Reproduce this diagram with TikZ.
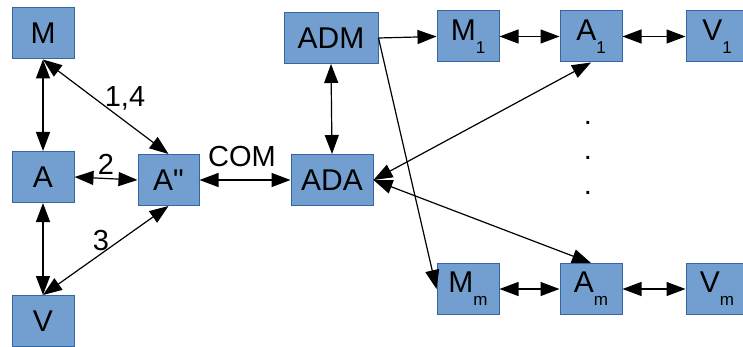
\documentclass[tikz,border=0pt]{standalone}
\usepackage{fontspec}
\setmainfont{Liberation Sans}
\newfontfamily\rawfont[Ligatures=TeXOff]{Liberation Sans}
\usetikzlibrary{arrows.meta}
\definecolor{boxfill}{HTML}{729FCF}
\definecolor{boxborder}{HTML}{3465A4}
\newcommand{\subtxt}[1]{\raisebox{-13pt}{\fontsize{17}{17}\selectfont #1}}
\begin{document}
\begin{tikzpicture}[x=1pt,y=-1pt,
  box/.style={draw=boxborder, fill=boxfill, line width=1pt, inner sep=0pt,
    minimum width=62pt, minimum height=51pt, font=\fontsize{30}{34}\selectfont},
  lbl/.style={anchor=base, inner sep=0pt, font=\fontsize{29}{34}\selectfont},
  tip/.tip={Triangle[length=19pt,width=14pt]},
  both/.style={line width=1.2pt, tip-tip},
  one/.style={line width=1.2pt, -tip}]
\clip (0,0) rectangle (743,347);
\useasboundingbox (0,0) rectangle (743,347);
% left group
\node[box] (M) at (43,33.5) {M};
\node[box] (A) at (43,177) {A};
\node[box] (V) at (43,321) {V};
\node[box, minimum width=61pt] (App) at (168.5,180) {{\rawfont A"}};
% centre
\node[box, minimum width=94pt] (ADM) at (331,38) {ADM};
\node[box, minimum width=82pt] (ADA) at (332,180) {ADA};
% right rows
\node[box] (M1) at (468,36.5) {M\subtxt{1}};
\node[box] (A1) at (591,36.5) {A\subtxt{1}};
\node[box] (V1) at (717,36.5) {V\subtxt{1}};
\node[box] (Mm) at (468,289) {M\subtxt{m}};
\node[box] (Am) at (591,289) {A\subtxt{m}};
\node[box] (Vm) at (717,289) {V\subtxt{m}};
% labels
\node[lbl] (l14) at (125,107) {1,4};
\node[lbl] (l2) at (106,175) {2};
\node[lbl] (l3) at (101,250) {3};
\node[lbl] (lcom) at (242,167) {COM};
% dots
\node[lbl] (d1) at (588,125) {.};
\node[lbl] (d2) at (588,160) {.};
\node[lbl] (d3) at (588,195) {.};
% connectors
\draw[both] (M.south) -- (A.north);
\draw[both] (A.south) -- (V.north);
\draw[both] (M.south) -- (App.north);
\draw[both] (V.north) -- (App.south);
\draw[both] (A.east) -- (App.west);
\draw[both] (App.east) -- (ADA.west);
\draw[both] (ADM.south) -- (ADA.north);
\draw[one] (ADM.east) -- (M1.west);
\draw[one] (ADM.east) -- (Mm.west);
\draw[both] (ADA.east) -- (A1.south);
\draw[both] (ADA.east) -- (Am.north);
\draw[both] (M1.east) -- (A1.west);
\draw[both] (A1.east) -- (V1.west);
\draw[both] (Mm.east) -- (Am.west);
\draw[both] (Am.east) -- (Vm.west);
\end{tikzpicture}
\end{document}
